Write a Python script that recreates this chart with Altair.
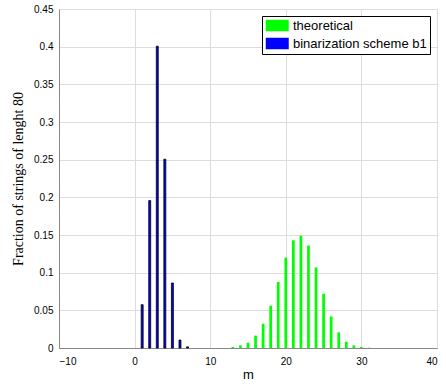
import altair as alt
import pandas as pd

# Data
blue_m = [1, 2, 3, 4, 5, 6, 7]
blue_f = [0.0575, 0.1957, 0.4006, 0.2506, 0.0863, 0.0106, 0.0015]
green_m = [13, 14, 15, 16, 17, 18, 19, 20, 21, 22, 23, 24, 25, 26, 27, 28, 29, 30, 31]
green_f = [0.0013, 0.0035, 0.007, 0.0164, 0.0323, 0.0562, 0.0877, 0.120, 0.143,
           0.149, 0.136, 0.107, 0.072, 0.042, 0.0208, 0.0084, 0.0035, 0.0013, 0.0004]
series = ["theoretical", "binarization scheme b1"]
colors = ["#00ff00", "#0000ff"]
x_ticks = [-10, 0, 10, 20, 30, 40]
y_ticks = [0, 0.05, 0.1, 0.15, 0.2, 0.25, 0.3, 0.35, 0.4, 0.45]

green_df = pd.DataFrame({"m": green_m, "f": green_f, "s": series[0]})
blue_df = pd.DataFrame({"m": blue_m, "f": blue_f, "s": series[1]})

color = alt.Color("s:N", scale=alt.Scale(domain=series, range=colors),
                  legend=alt.Legend(title=None, orient="none", legendX=203, legendY=7,
                                    padding=3, strokeColor="black", fillColor="white",
                                    labelFontSize=13, labelFont="Liberation Sans",
                                    labelColor="black", labelOffset=15,
                                    symbolType="M-1,-1H3V1H-1Z", symbolSize=132,
                                    symbolStrokeWidth=0, symbolOpacity=1, rowPadding=4))

xenc = alt.X("x1:Q", scale=alt.Scale(domain=[-10, 40], nice=False),
             axis=alt.Axis(values=x_ticks, title="m", grid=True, ticks=False,
                           titleFontWeight="normal", titleFont="Liberation Sans",
                           titleFontSize=13, labelPadding=8, titlePadding=2))
yenc = alt.Y("f:Q", scale=alt.Scale(domain=[0, 0.45], nice=False),
             axis=alt.Axis(values=y_ticks, format="~g", grid=True, ticks=False,
                           title="Fraction of strings of lenght 80",
                           titleFont="Liberation Serif", titleFontSize=14,
                           titleFontWeight="normal", labelPadding=6, titlePadding=8))

green = alt.Chart(green_df).mark_rect(opacity=1).transform_calculate(
    x1="datum.m - 0.18", x2="datum.m + 0.18"
).encode(x=xenc, x2="x2:Q", y=yenc, y2=alt.datum(0), color=color)

blue = alt.Chart(blue_df).mark_rect(opacity=1, stroke="black", strokeWidth=0.8).transform_calculate(
    x1="datum.m - 0.13", x2="datum.m + 0.13"
).encode(x=xenc, x2="x2:Q", y=yenc, y2=alt.datum(0), color=color)

chart = alt.layer(green, blue).properties(
    width=378, height=339,
    autosize=alt.AutoSizeParams(type="none"),
    padding={"left": 59, "top": 9, "right": 9, "bottom": 42},
).configure_view(stroke="black", strokeWidth=1).configure_axis(
    domainColor="black", domainWidth=1, gridColor="#333333", gridDash=[1, 3],
    gridOpacity=1, gridWidth=1, labelFont="Liberation Sans", labelFontSize=13,
    labelColor="black", titleColor="black"
).configure(background="white")

chart.save("out.html", embed_options={"renderer": "svg", "actions": False})
